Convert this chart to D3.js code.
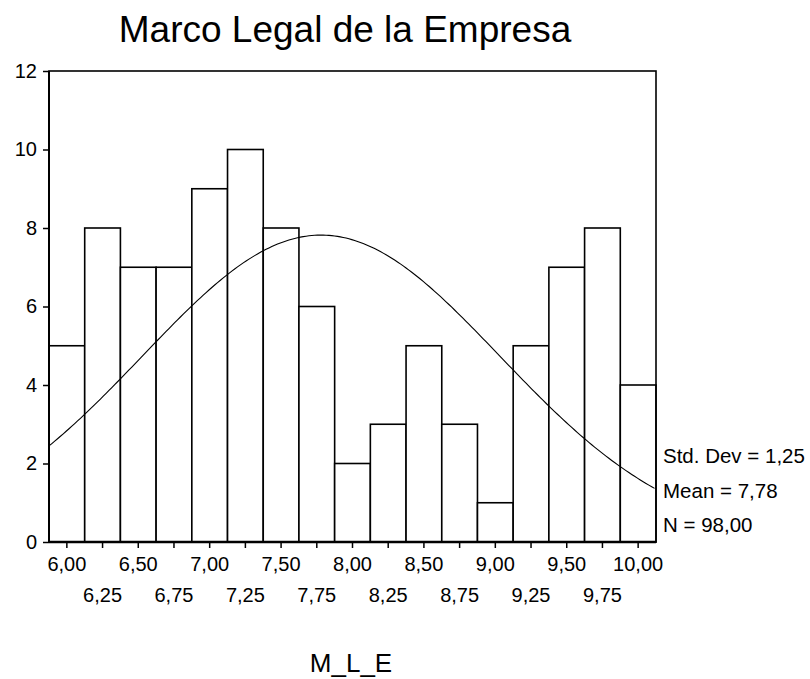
<!DOCTYPE html>
<html>
<head>
<meta charset="utf-8">
<script src="https://cdn.jsdelivr.net/npm/d3@7"></script>
<style>
  body { margin: 0; background: #fff; }
  svg { display: block; font-family: "Liberation Sans", Arial, sans-serif; }
</style>
</head>
<body>
<svg width="810" height="679"></svg>
<script>
// bin midpoints and counts
const binCenters = [6.00, 6.25, 6.50, 6.75, 7.00, 7.25, 7.50, 7.75, 8.00, 8.25, 8.50, 8.75, 9.00, 9.25, 9.50, 9.75, 10.00]
const counts = [5, 8, 7, 7, 9, 10, 8, 6, 2, 3, 5, 3, 1, 5, 7, 8, 4]
const yTicks = [0, 2, 4, 6, 8, 10, 12]
const stats = ['Std. Dev = 1,25', 'Mean = 7,78', 'N = 98,00']
const stdDev = 1.25
const mean = 7.78
const n = 98
const binWidth = 0.25

const fmt = v => d3.format('.2f')(v).replace('.', ',')

const svg = d3.select('svg')
const plotLeft = 49, plotRight = 656, plotTop = 71, plotBottom = 542

const x = d3.scaleLinear()
  .domain([binCenters[0] - binWidth / 2, binCenters[binCenters.length - 1] + binWidth / 2])
  .range([plotLeft, plotRight])

const y = d3.scaleLinear()
  .domain([0, 12])
  .range([plotBottom, plotTop])

// bars
svg.append('g')
  .selectAll('rect')
  .data(binCenters)
  .join('rect')
  .attr('x', d => x(d - binWidth / 2))
  .attr('width', d => x(d + binWidth / 2) - x(d - binWidth / 2))
  .attr('y', (d, i) => y(counts[i]))
  .attr('height', (d, i) => y(0) - y(counts[i]))
  .attr('fill', 'white')
  .attr('stroke', 'black')
  .attr('stroke-width', 1.6)

// normal curve from the shown statistics
const curveX = d3.range(x.domain()[0], x.domain()[1] + 0.001, 0.02)
const density = v => n * binWidth / (stdDev * Math.sqrt(2 * Math.PI)) *
  Math.exp(-0.5 * Math.pow((v - mean) / stdDev, 2))

svg.append('path')
  .datum(curveX)
  .attr('fill', 'none')
  .attr('stroke', 'black')
  .attr('stroke-width', 1.1)
  .attr('d', d3.line().x(d => x(d)).y(d => y(density(d))))

// frame
svg.append('rect')
  .attr('x', plotLeft)
  .attr('y', plotTop)
  .attr('width', plotRight - plotLeft)
  .attr('height', plotBottom - plotTop)
  .attr('fill', 'none')
  .attr('stroke', 'black')
  .attr('stroke-width', 1.6)

svg.append('line')
  .attr('x1', plotLeft).attr('x2', plotRight)
  .attr('y1', plotBottom).attr('y2', plotBottom)
  .attr('stroke', 'black')
  .attr('stroke-width', 2.4)

svg.append('line')
  .attr('x1', plotLeft).attr('x2', plotLeft)
  .attr('y1', plotTop).attr('y2', plotBottom)
  .attr('stroke', 'black')
  .attr('stroke-width', 2)

// y axis
const yAxis = svg.append('g')
  .attr('transform', `translate(${plotLeft},0)`)
  .call(d3.axisLeft(y).tickValues(yTicks).tickSize(6).tickPadding(6))
yAxis.select('.domain').remove()
yAxis.selectAll('line').attr('stroke-width', 1.5)
yAxis.selectAll('text').attr('font-size', 20).attr('fill', 'black')
  .attr('font-family', '"Liberation Sans", Arial, sans-serif')

// x axis ticks
svg.append('g')
  .selectAll('line')
  .data(binCenters)
  .join('line')
  .attr('x1', d => x(d)).attr('x2', d => x(d))
  .attr('y1', plotBottom).attr('y2', plotBottom + 6)
  .attr('stroke', 'black')
  .attr('stroke-width', 1.5)

// x tick labels in two staggered rows
svg.append('g')
  .selectAll('text')
  .data(binCenters)
  .join('text')
  .attr('x', d => x(d))
  .attr('y', (d, i) => i % 2 === 0 ? 571 : 602)
  .attr('text-anchor', 'middle')
  .attr('font-size', 20)
  .text(d => fmt(d))

// statistics
svg.append('g')
  .selectAll('text')
  .data(stats)
  .join('text')
  .attr('x', 663)
  .attr('y', (d, i) => 463 + i * 34.5)
  .attr('font-size', 20.5)
  .text(d => d)

svg.append('text')
  .attr('x', 345)
  .attr('y', 42)
  .attr('text-anchor', 'middle')
  .attr('font-size', 37)
  .text('Marco Legal de la Empresa')

svg.append('text')
  .attr('x', 351)
  .attr('y', 672)
  .attr('text-anchor', 'middle')
  .attr('font-size', 26)
  .text('M_L_E')
</script>
</body>
</html>
